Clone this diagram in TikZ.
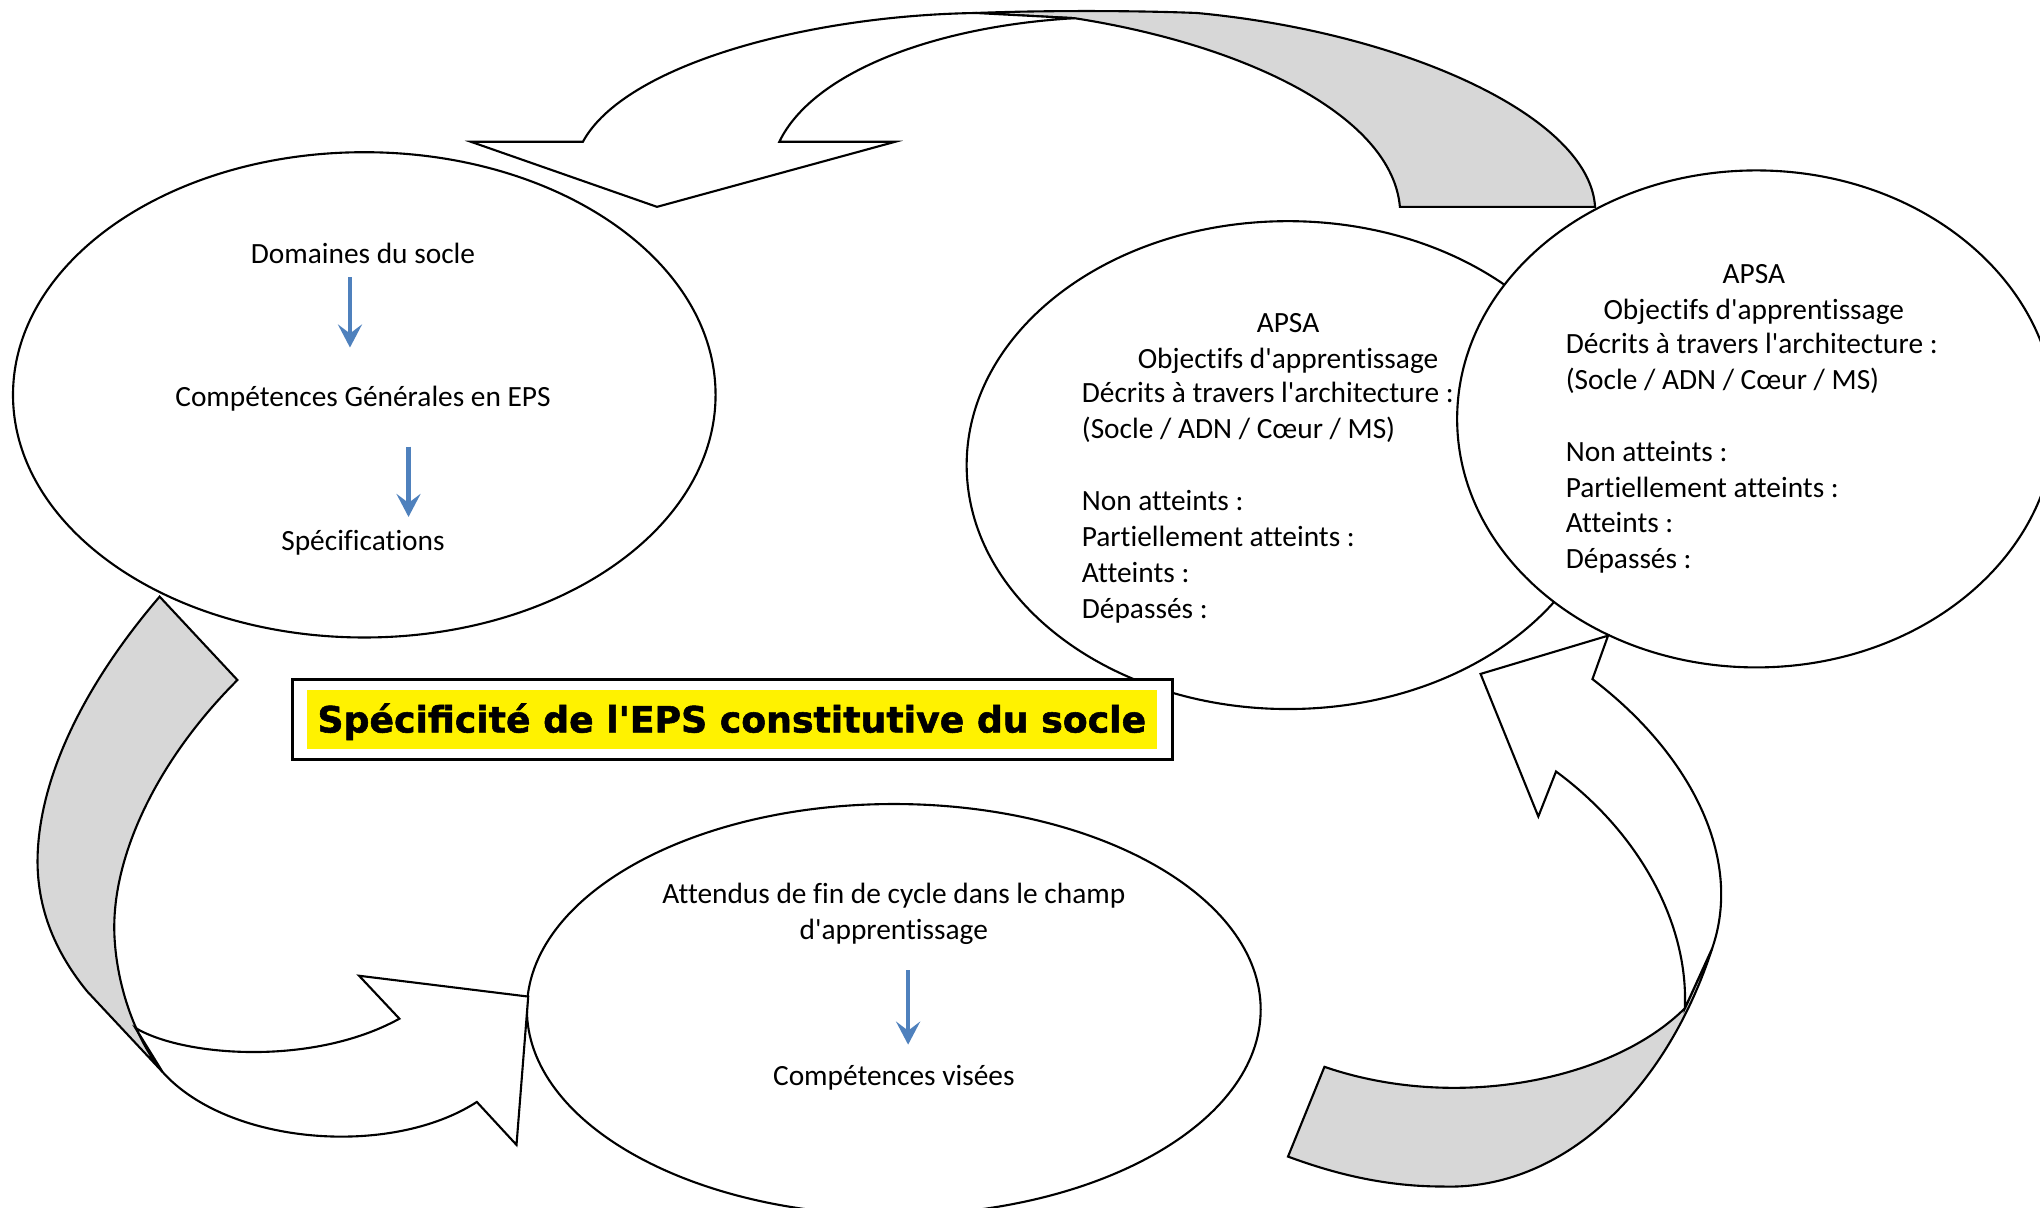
\documentclass[tikz,border=0pt]{standalone}
\usepackage{fontspec}
\setmainfont{Carlito}[Ligatures=NoCommon]
\newfontfamily\titlefont{DejaVu Sans}[BoldFeatures={FakeBold=1.5}]
\usetikzlibrary{shapes.geometric,arrows.meta}

\definecolor{accentBlue}{RGB}{79,129,189}
\definecolor{ribbonGray}{RGB}{215,215,215}

\begin{document}
\begin{tikzpicture}[
        x=0.013cm, y=-0.013cm,
        bubble/.style={draw, ellipse, fill=white, line width=0.6pt, inner sep=0pt},
        ribbonBack/.style={draw, fill=ribbonGray, line width=0.6pt},
        ribbonFront/.style={draw, fill=white, line width=0.6pt},
        txt/.style={inner sep=0pt, font=\fontsize{8.35}{10.2}\selectfont},
        blueArrow/.style={draw=accentBlue, line width=1.2pt, -{Stealth[length=2.3mm, width=2.4mm, inset=0.9mm]}},
        titleFrame/.style={draw, fill=white, line width=0.9pt, inner sep=0pt, minimum width=8.788cm, minimum height=0.793cm},
        titleBand/.style={fill=yellow, inner sep=0pt, minimum width=8.489cm, minimum height=0.598cm,
            font=\titlefont\bfseries\fontsize{10.3}{12}\selectfont, text height=7.4pt, text depth=0pt}
    ]
    \useasboundingbox (0,0) rectangle (1568,928);
    \clip (0,0) rectangle (1568,928);

    \node[bubble, minimum width=6.422cm, minimum height=4.875cm] (bApsaA) at (990,357.5) {};
    \node[bubble, minimum width=5.98cm, minimum height=4.966cm] (bApsaB) at (1350,322) {};
    \node[bubble, minimum width=7.02cm, minimum height=4.849cm] (bSocle) at (280,303.5) {};
    \node[bubble, minimum width=7.332cm, minimum height=4.108cm] (bCycle) at (687,776) {};

    % top arrow
    \draw[ribbonBack] (750,10) .. controls (800,8) and (870,8) .. (920,10)
        .. controls (1080,25) and (1222,90) .. (1226,159) -- (1076,159)
        .. controls (1070,90) and (960,35) .. (826,14) -- cycle;
    \draw[ribbonFront] (362,109) -- (448,109) .. controls (480,50) and (620,12) .. (750,10)
        -- (826,14) .. controls (720,20) and (625,55) .. (599,109)
        -- (688,109) -- (505,159) -- cycle;

    % left arrow
    \draw[ribbonBack] (122.7,458.6) -- (182.5,522.7)
        .. controls (120,585) and (85,660) .. (88,720)
        .. controls (90,760) and (105,800) .. (125,824)
        -- (67,762)
        .. controls (45,735) and (27,700) .. (29,655)
        .. controls (32,590) and (70,520) .. (122.7,458.6) -- cycle;
    \draw[ribbonFront] (104,790) .. controls (140,812) and (240,820) .. (307,783)
        -- (276,750) -- (406,766) -- (397,880) -- (366.5,847)
        .. controls (300,890) and (175,880) .. (125,824) -- cycle;

    % right arrow
    \draw[ribbonBack] (1018,820) .. controls (1120,855) and (1240,830) .. (1295,775) -- (1316,729)
        .. controls (1280,840) and (1200,915) .. (1109,912)
        .. controls (1060,912) and (1020,900) .. (990,889) -- cycle;
    \draw[ribbonFront] (1138,518) -- (1236,488.6) -- (1224,522)
        .. controls (1300,580) and (1340,660) .. (1316,729) -- (1295,775)
        .. controls (1298,710) and (1260,640) .. (1196,593)
        -- (1182.4,627.6) -- cycle;

    \node[txt, anchor=base] (dom) at (279,202.5) {Domaines du socle};
    \node[txt, anchor=base] (cge) at (279,312.5) {Compétences Générales en EPS};
    \node[txt, anchor=base] (spec) at (279,423.5) {Spécifications};

    \node[txt, align=center, anchor=north] (apsaA) at (990,240.5) {APSA\\Objectifs d\textquotesingle apprentissage};
    \node[txt, align=left, anchor=north west] (niveauxA) at (831,293.5) {Décrits à travers l\textquotesingle architecture :\\(Socle / ADN / Cœur / MS)\\[10.2pt]Non atteints :\\Partiellement atteints :\\Atteints :\\Dépassés :};

    \node[txt, align=center, anchor=north] (apsaB) at (1348,202.5) {APSA\\Objectifs d\textquotesingle apprentissage};
    \node[txt, align=left, anchor=north west] (niveauxB) at (1203,255.5) {Décrits à travers l\textquotesingle architecture :\\(Socle / ADN / Cœur / MS)\\[10.2pt]Non atteints :\\Partiellement atteints :\\Atteints :\\Dépassés :};

    \node[txt, align=center, anchor=north] (attendus) at (687,678.5) {Attendus de fin de cycle dans le champ\\d\textquotesingle apprentissage};
    \node[txt, anchor=base] (visees) at (687,834.5) {Compétences visées};

    \coordinate (fA) at (269,0);
    \coordinate (fB) at (314,0);
    \coordinate (fC) at (698,0);
    \draw[blueArrow, shorten <=0.14cm, shorten >=0.59cm] (dom.base -| fA) -- (cge.base -| fA);
    \draw[blueArrow, shorten <=0.40cm, shorten >=0.34cm] (cge.base -| fB) -- (spec.base -| fB);
    \draw[blueArrow, shorten <=0.25cm, shorten >=0.41cm] (attendus.south -| fC) -- (visees.base -| fC);

    \node[titleFrame] (cadre) at (563,553) {};
    \node[titleBand] (titre) at (562.5,553) {Spécificité de l'EPS constitutive du socle};
\end{tikzpicture}
\end{document}
